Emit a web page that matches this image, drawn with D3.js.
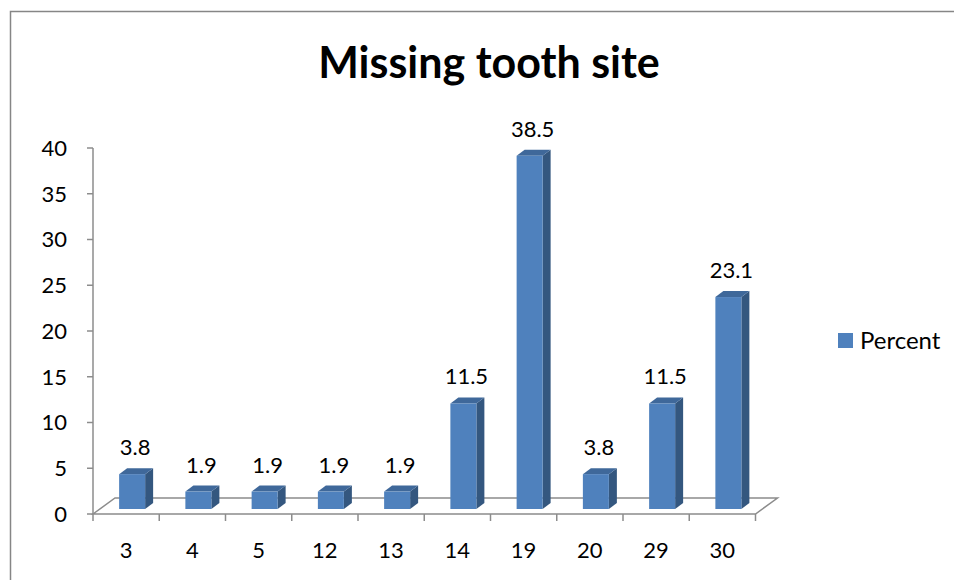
<!DOCTYPE html>
<html>
<head>
<meta charset="utf-8">
<script src="https://cdn.jsdelivr.net/npm/d3@7"></script>
<style>
  body { margin: 0; background: #fff; }
  svg { display: block; }
  text { font-family: Lato, "Open Sans", sans-serif; fill: #000; }
</style>
</head>
<body>
<svg width="954" height="580"></svg>
<script>
// data
var sites = ['3', '4', '5', '12', '13', '14', '19', '20', '29', '30'];
var percent = [3.8, 1.9, 1.9, 1.9, 1.9, 11.5, 38.5, 3.8, 11.5, 23.1];
var yTicks = [0, 5, 10, 15, 20, 25, 30, 35, 40];
var title = 'Missing tooth site';
var seriesName = 'Percent';

var svg = d3.select('svg');

// outer border (cropped on right / bottom)
svg.append('path')
  .attr('d', 'M10.5,580 L10.5,11.5 L954,11.5')
  .attr('fill', 'none')
  .attr('stroke', '#868686')
  .attr('stroke-width', 1.5);

// scales
var x = d3.scaleBand().domain(sites).range([93, 755.5]);
var y = d3.scaleLinear().domain([0, 40]).range([514, 148]);
// bars sit a bit deeper in the floor, so slightly different plane
var yBar = d3.scaleLinear().domain([0, 40]).range([509, 142]);

var depthX = 22, depthY = 16;   // floor depth
var bdx = 8, bdy = 6;           // bar depth
var barW = 26;

var grey = '#8c8c8c';

// floor
var floor = svg.append('g');
floor.append('path')
  .attr('d', 'M' + x.range()[0] + ',' + y(0) +
    ' L' + (x.range()[0] + depthX) + ',' + (y(0) - depthY) +
    ' L' + (x.range()[1] + depthX) + ',' + (y(0) - depthY) +
    ' L' + x.range()[1] + ',' + y(0) + ' Z')
  .attr('fill', 'none')
  .attr('stroke', grey)
  .attr('stroke-width', 1.5);

// y axis
var yAxis = svg.append('g');
yAxis.append('line')
  .attr('x1', 93).attr('x2', 93)
  .attr('y1', y(0)).attr('y2', y(40))
  .attr('stroke', grey).attr('stroke-width', 1.5);
yAxis.selectAll('line.tick')
  .data(yTicks)
  .enter().append('line')
  .attr('class', 'tick')
  .attr('x1', 87).attr('x2', 93)
  .attr('y1', function(d) { return y(d); })
  .attr('y2', function(d) { return y(d); })
  .attr('stroke', grey).attr('stroke-width', 1.5);
yAxis.selectAll('text')
  .data(yTicks)
  .enter().append('text')
  .attr('x', 67)
  .attr('y', function(d) { return y(d); })
  .attr('dy', '0.36em')
  .attr('text-anchor', 'end')
  .style('font-size', '22px')
  .text(function(d) { return d; });

// x axis ticks and labels
var xTickPos = sites.map(function(d) { return x(d); }).concat([x.range()[1]]);
svg.append('g').selectAll('line')
  .data(xTickPos)
  .enter().append('line')
  .attr('x1', function(d) { return d; })
  .attr('x2', function(d) { return d; })
  .attr('y1', y(0)).attr('y2', y(0) + 7)
  .attr('stroke', grey).attr('stroke-width', 1.5);
svg.append('g').selectAll('text')
  .data(sites)
  .enter().append('text')
  .attr('x', function(d) { return x(d) + x.bandwidth() / 2; })
  .attr('y', 558)
  .attr('text-anchor', 'middle')
  .style('font-size', '22px')
  .text(function(d) { return d; });

// 3D bars
var data = sites.map(function(s, i) { return { site: s, value: percent[i] }; });
var bars = svg.append('g').selectAll('g')
  .data(data)
  .enter().append('g');

function fx(d) { return x(d.site) + x.bandwidth() / 2 - 7; }

bars.append('path')   // side
  .attr('d', function(d) {
    var x1 = fx(d) + barW, t = yBar(d.value), b = yBar(0);
    return 'M' + x1 + ',' + t + ' L' + (x1 + bdx) + ',' + (t - bdy) +
      ' L' + (x1 + bdx) + ',' + (b - bdy) + ' L' + x1 + ',' + b + ' Z';
  })
  .attr('fill', '#34577f');
bars.append('path')   // top
  .attr('d', function(d) {
    var x0 = fx(d), t = yBar(d.value);
    return 'M' + x0 + ',' + t + ' L' + (x0 + bdx) + ',' + (t - bdy) +
      ' L' + (x0 + barW + bdx) + ',' + (t - bdy) + ' L' + (x0 + barW) + ',' + t + ' Z';
  })
  .attr('fill', '#3f689a');
bars.append('rect')   // front
  .attr('x', fx)
  .attr('y', function(d) { return yBar(d.value); })
  .attr('width', barW)
  .attr('height', function(d) { return yBar(0) - yBar(d.value); })
  .attr('fill', '#4f81bd');

// data labels
bars.append('text')
  .attr('x', function(d) { return fx(d) + barW / 2 + 3; })
  .attr('y', function(d) { return yBar(d.value) - 19; })
  .attr('text-anchor', 'middle')
  .style('font-size', '22px')
  .text(function(d) { return d.value.toFixed(1); });

// title
svg.append('text')
  .attr('x', 489)
  .attr('y', 78)
  .attr('text-anchor', 'middle')
  .style('font-size', '43px')
  .style('font-weight', 'bold')
  .text(title);

// legend
var legend = svg.append('g');
legend.append('rect')
  .attr('x', 838).attr('y', 333)
  .attr('width', 15).attr('height', 15)
  .attr('fill', '#4f81bd');
legend.append('text')
  .attr('x', 860).attr('y', 349)
  .style('font-size', '24px')
  .text(seriesName);
</script>
</body>
</html>
